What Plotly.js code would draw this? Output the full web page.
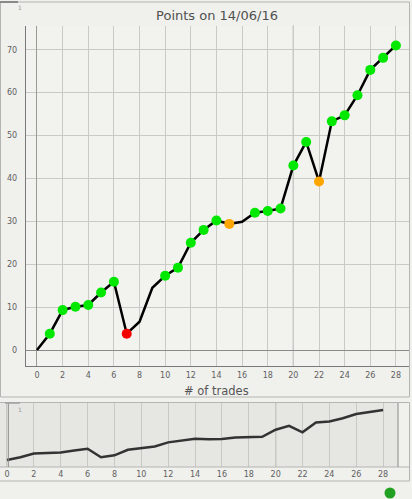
<!DOCTYPE html>
<html>
<head>
<meta charset="utf-8">
<script src="https://cdn.plot.ly/plotly-3.0.1.min.js"></script>
<style>
html,body{margin:0;padding:0;background:#f0f0ed;}
#chart{width:412px;height:499px;}
</style>
</head>
<body>
<div id="chart"></div>
<script>
// ---- data ----
const trades = [0,1,2,3,4,5,6,7,8,9,10,11,12,13,14,15,16,17,18,19,20,21,22,23,24,25,26,27,28];
const points = [0,3.8,9.3,10.1,10.5,13.4,15.9,3.8,6.6,14.5,17.3,19.2,25.0,28.0,30.2,29.4,29.9,32.0,32.4,33.0,43.0,48.5,39.3,53.3,54.7,59.4,65.3,68.1,71.0];
const status = ['','win','win','win','win','win','win','loss','','','win','win','win','win','win','even','','win','win','win','win','win','even','win','win','win','win','win','win'];
const statusColors = {win:'#00e800', loss:'#f50000', even:'#ffa500'};
const xTicks = [0,2,4,6,8,10,12,14,16,18,20,22,24,26,28];
const yTicks = [0,10,20,30,40,50,60,70];
const chartTitle = 'Points on 14/06/16';
const xTitle = '# of trades';

const W = 412, H = 499;
const px = v => v / W;
const py = v => 1 - v / H;

const mx = [], my = [], mc = [];
trades.forEach((t, i) => {
  if (status[i]) { mx.push(t); my.push(points[i]); mc.push(statusColors[status[i]]); }
});

const tickFont = {family:'DejaVu Sans, Verdana, sans-serif', size:8, color:'#606060'};

const traces = [
  {x:trades, y:points, type:'scatter', mode:'lines', line:{color:'#000', width:2.5}, xaxis:'x', yaxis:'y', hoverinfo:'skip'},
  {x:mx, y:my, type:'scatter', mode:'markers', marker:{color:mc, size:10, line:{width:0}}, xaxis:'x', yaxis:'y'},
  {x:trades, y:points, type:'scatter', mode:'lines', line:{color:'#333', width:2.5}, xaxis:'x2', yaxis:'y2', hoverinfo:'skip'}
];

const layout = {
  width:W, height:H,
  margin:{l:0, r:0, t:0, b:0},
  paper_bgcolor:'#f0f0ed',
  plot_bgcolor:'#f2f2ef',
  showlegend:false,
  title:{text:chartTitle, x:px(217), y:py(15), xanchor:'center', yanchor:'middle', xref:'paper', yref:'paper',
         font:{family:'DejaVu Sans, Verdana, sans-serif', size:13, color:'#505050'}},
  xaxis:{domain:[px(25.7), px(409)], range:[-0.88, 29.02], anchor:'y',
         tickvals:xTicks, tickfont:tickFont, ticks:'', ticklabelstandoff:2,
         showgrid:true, gridcolor:'#c9c9c6', gridwidth:1,
         zeroline:true, zerolinecolor:'#9a9a98', zerolinewidth:1,
         showline:true, linecolor:'#7a7a7a', linewidth:1, fixedrange:true},
  yaxis:{domain:[py(365.7), py(25.7)], range:[-3.66, 75.6], anchor:'x',
         tickvals:yTicks, tickfont:tickFont, ticks:'', ticklabelstandoff:6,
         showgrid:true, gridcolor:'#c9c9c6', gridwidth:1,
         zeroline:true, zerolinecolor:'#8a8a88', zerolinewidth:1,
         showline:true, linecolor:'#7a7a7a', linewidth:1, fixedrange:true},
  xaxis2:{domain:[0, px(398)], range:[-0.52, 29.11], anchor:'y2',
         tickvals:xTicks, tickfont:tickFont, ticks:'', ticklabelstandoff:1,
         showgrid:true, gridcolor:'#c9c9c6', gridwidth:1,
         zeroline:false, showline:false, fixedrange:true},
  yaxis2:{domain:[py(467), py(403)], range:[-10, 81], anchor:'x2',
         showticklabels:false, showgrid:false, zeroline:false, showline:false, fixedrange:true},
  shapes:[
    // bottom panel inner background
    {type:'rect', xref:'paper', yref:'paper', x0:0, x1:px(398), y0:py(467), y1:py(403), fillcolor:'#e6e6e3', line:{width:0}, layer:'below'},
    // main panel border
    {type:'rect', xref:'paper', yref:'paper', x0:px(0.5), x1:px(409.5), y0:py(397), y1:py(2), fillcolor:'rgba(0,0,0,0)', line:{color:'#b4b4b2', width:1}},
    // bottom panel border
    {type:'rect', xref:'paper', yref:'paper', x0:px(-1), x1:px(409.5), y0:py(481), y1:py(402.5), fillcolor:'rgba(0,0,0,0)', line:{color:'#b4b4b2', width:1}},
    // bottom axis box lines
    {type:'line', xref:'paper', yref:'paper', x0:0, x1:px(409.5), y0:py(467), y1:py(467), line:{color:'#b4b4b2', width:1}},
    {type:'line', xref:'paper', yref:'paper', x0:px(398), x1:px(398), y0:py(467), y1:py(403), line:{color:'#8a8a88', width:1}},
    {type:'line', xref:'paper', yref:'paper', x0:px(8.3), x1:px(8.3), y0:py(467), y1:py(403), line:{color:'#8a8a88', width:1}},
    // dark verticals at 20
    {type:'line', xref:'x', yref:'paper', x0:20, x1:20, y0:py(365.7), y1:py(25.7), line:{color:'#6a6a6a', width:1}, layer:'below'},
    {type:'line', xref:'x2', yref:'paper', x0:20, x1:20, y0:py(467), y1:py(403), line:{color:'#6a6a6a', width:1}, layer:'below'},
    // top tab
    {type:'line', xref:'paper', yref:'paper', x0:0, x1:px(18), y0:py(2), y1:py(2), line:{color:'#707070', width:1.5}},
    {type:'line', xref:'paper', yref:'paper', x0:px(5), x1:px(20), y0:py(403), y1:py(403), line:{color:'#a0a0a0', width:1.5}},
    // status dot
    {type:'circle', xref:'paper', yref:'paper', x0:px(384.5), x1:px(395.5), y0:py(498.5), y1:py(487.5), fillcolor:'#22a022', line:{width:0}}
  ],
  annotations:[
    {text:xTitle, xref:'paper', yref:'paper', x:px(216), y:py(391), xanchor:'center', yanchor:'middle', showarrow:false,
     font:{family:'DejaVu Sans, Verdana, sans-serif', size:11.5, color:'#555'}},
    {text:'1', xref:'paper', yref:'paper', x:px(20), y:py(7), xanchor:'center', yanchor:'middle', showarrow:false,
     font:{family:'DejaVu Sans, sans-serif', size:6, color:'#999'}},
    {text:'1', xref:'paper', yref:'paper', x:px(20), y:py(409), xanchor:'center', yanchor:'middle', showarrow:false,
     font:{family:'DejaVu Sans, sans-serif', size:6, color:'#999'}}
  ]
};

Plotly.newPlot('chart', traces, layout, {displayModeBar:false, staticPlot:true});
</script>
</body>
</html>
